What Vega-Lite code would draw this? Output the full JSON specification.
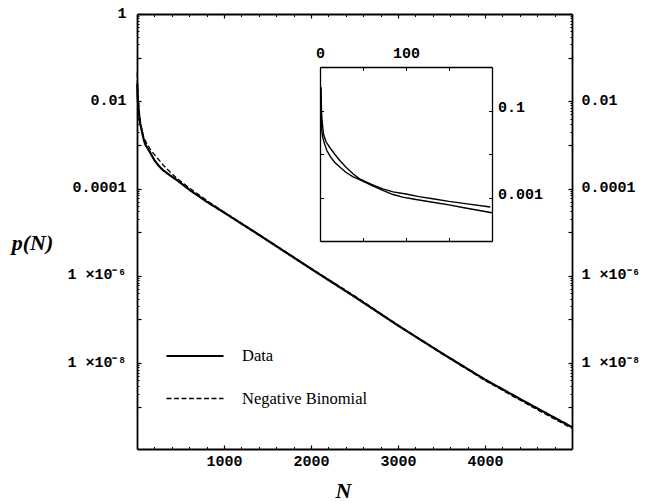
{
  "$schema": "https://vega.github.io/schema/vega-lite/v6.json",
  "width": 435,
  "height": 435,
  "autosize": "none",
  "padding": {"left": 137, "top": 14, "right": 77, "bottom": 55},
  "background": "white",
  "config": {
    "view": {"stroke": null},
    "axis": {"grid": false, "domainColor": "black", "tickColor": "black", "labelColor": "black", "titleColor": "black", "labelFont": "Liberation Mono", "labelFontSize": 15, "labelFontWeight": "bold", "zindex": 1, "labelOverlap": false, "labelFlush": false}
  },
  "datasets": {
    "curves": [
      {"N": 1, "p": 0.331, "s": "Data"},
      {"N": 2, "p": 0.0355, "s": "Data"},
      {"N": 3, "p": 0.0251, "s": "Data"},
      {"N": 5, "p": 0.0178, "s": "Data"},
      {"N": 8, "p": 0.0120, "s": "Data"},
      {"N": 12, "p": 0.00871, "s": "Data"},
      {"N": 17, "p": 0.00646, "s": "Data"},
      {"N": 23, "p": 0.00501, "s": "Data"},
      {"N": 30, "p": 0.00380, "s": "Data"},
      {"N": 38, "p": 0.00302, "s": "Data"},
      {"N": 46, "p": 0.00257, "s": "Data"},
      {"N": 60, "p": 0.00191, "s": "Data"},
      {"N": 73, "p": 0.00145, "s": "Data"},
      {"N": 85, "p": 0.00117, "s": "Data"},
      {"N": 96, "p": 0.00102, "s": "Data"},
      {"N": 110, "p": 0.000912, "s": "Data"},
      {"N": 131, "p": 0.000776, "s": "Data"},
      {"N": 150, "p": 0.000676, "s": "Data"},
      {"N": 169, "p": 0.000575, "s": "Data"},
      {"N": 200, "p": 0.000447, "s": "Data"},
      {"N": 250, "p": 0.000331, "s": "Data"},
      {"N": 300, "p": 0.000263, "s": "Data"},
      {"N": 380, "p": 0.000200, "s": "Data"},
      {"N": 460, "p": 0.000155, "s": "Data"},
      {"N": 610, "p": 9.12e-5, "s": "Data"},
      {"N": 800, "p": 5.01e-5, "s": "Data"},
      {"N": 1000, "p": 2.82e-5, "s": "Data"},
      {"N": 1400, "p": 8.71e-6, "s": "Data"},
      {"N": 2000, "p": 1.445e-6, "s": "Data"},
      {"N": 2500, "p": 3.31e-7, "s": "Data"},
      {"N": 3000, "p": 7.24e-8, "s": "Data"},
      {"N": 3500, "p": 1.70e-8, "s": "Data"},
      {"N": 4000, "p": 4.17e-9, "s": "Data"},
      {"N": 4500, "p": 1.175e-9, "s": "Data"},
      {"N": 5000, "p": 3.39e-10, "s": "Data"},
      {"N": 1, "p": 0.347, "s": "Negative Binomial"},
      {"N": 2, "p": 0.0708, "s": "Negative Binomial"},
      {"N": 3, "p": 0.0457, "s": "Negative Binomial"},
      {"N": 4, "p": 0.0288, "s": "Negative Binomial"},
      {"N": 7, "p": 0.0191, "s": "Negative Binomial"},
      {"N": 11, "p": 0.0145, "s": "Negative Binomial"},
      {"N": 17, "p": 0.0100, "s": "Negative Binomial"},
      {"N": 23, "p": 0.00708, "s": "Negative Binomial"},
      {"N": 30, "p": 0.00501, "s": "Negative Binomial"},
      {"N": 38, "p": 0.00355, "s": "Negative Binomial"},
      {"N": 46, "p": 0.00269, "s": "Negative Binomial"},
      {"N": 60, "p": 0.00200, "s": "Negative Binomial"},
      {"N": 73, "p": 0.00158, "s": "Negative Binomial"},
      {"N": 85, "p": 0.00135, "s": "Negative Binomial"},
      {"N": 100, "p": 0.00120, "s": "Negative Binomial"},
      {"N": 115, "p": 0.00105, "s": "Negative Binomial"},
      {"N": 131, "p": 0.000933, "s": "Negative Binomial"},
      {"N": 150, "p": 0.000813, "s": "Negative Binomial"},
      {"N": 169, "p": 0.000724, "s": "Negative Binomial"},
      {"N": 198, "p": 0.000603, "s": "Negative Binomial"},
      {"N": 250, "p": 0.000457, "s": "Negative Binomial"},
      {"N": 300, "p": 0.000347, "s": "Negative Binomial"},
      {"N": 380, "p": 0.000240, "s": "Negative Binomial"},
      {"N": 460, "p": 0.000170, "s": "Negative Binomial"},
      {"N": 610, "p": 1.0e-4, "s": "Negative Binomial"},
      {"N": 800, "p": 5.37e-5, "s": "Negative Binomial"},
      {"N": 1000, "p": 2.88e-5, "s": "Negative Binomial"},
      {"N": 1400, "p": 8.9e-6, "s": "Negative Binomial"},
      {"N": 2000, "p": 1.48e-6, "s": "Negative Binomial"},
      {"N": 2500, "p": 3.47e-7, "s": "Negative Binomial"},
      {"N": 3000, "p": 7.41e-8, "s": "Negative Binomial"},
      {"N": 3500, "p": 1.66e-8, "s": "Negative Binomial"},
      {"N": 4000, "p": 3.98e-9, "s": "Negative Binomial"},
      {"N": 4500, "p": 1.096e-9, "s": "Negative Binomial"},
      {"N": 5000, "p": 3.16e-10, "s": "Negative Binomial"}
    ]
  },
  "layer": [
    {
      "layer": [
        {
          "data": {"name": "curves"},
          "transform": [{"filter": "datum.N >= 3"}],
          "mark": {"type": "line", "color": "black"},
          "encoding": {
            "x": {"field": "N", "type": "quantitative", "scale": {"domain": [0, 5000], "nice": false, "zero": false},
              "axis": {"orient": "bottom", "values": [1000, 2000, 3000, 4000], "format": "d", "tickSize": -4, "tickWidth": 1.2, "labelPadding": 8, "domainWidth": 1.8,
                "title": "N", "titleFont": "Liberation Serif", "titleFontStyle": "italic", "titleFontWeight": "bold", "titleFontSize": 22, "titleX": 206, "titleY": 48, "titleBaseline": "alphabetic", "titleAlign": "center", "titleAnchor": null}},
            "y": {"field": "p", "type": "quantitative", "scale": {"type": "log", "domain": [1.07e-10, 1], "nice": false},
              "axis": {"orient": "left", "values": [1, 0.1, 0.01, 0.001, 0.0001, 1e-5, 1e-6, 1e-7, 1e-8, 1e-9], "tickSize": -4, "tickWidth": 1.2, "labelPadding": 15, "labelOffset": -2, "domainWidth": 1.8,
                "labelExpr": "datum.value > 0.5 ? '1' : datum.value > 0.05 ? '' : datum.value > 0.005 ? '0.01' : datum.value > 0.0005 ? '' : datum.value > 0.00005 ? '0.0001' : datum.value > 0.000005 ? '' : datum.value > 5e-7 ? '1 ×10⁻⁶' : datum.value > 5e-8 ? '' : datum.value > 5e-9 ? '1 ×10⁻⁸' : ''",
                "title": "p(N)", "titleFont": "Liberation Serif", "titleFontStyle": "italic", "titleFontWeight": "bold", "titleFontSize": 22, "titleAngle": 0, "titleX": -105, "titleY": 235, "titleBaseline": "alphabetic", "titleAlign": "center", "titleAnchor": null}},
            "strokeDash": {"field": "s", "type": "nominal", "scale": {"domain": ["Data", "Negative Binomial"], "range": [[1, 0], [5, 2.5]]},
              "legend": {"orient": "none", "legendX": 28, "legendY": 312, "title": null, "symbolType": "stroke", "symbolSize": 3249, "symbolStrokeColor": "black", "labelFont": "Liberation Serif", "labelFontSize": 16.5, "labelColor": "black", "labelOffset": 17, "rowPadding": 4, "padding": 0}},
            "strokeWidth": {"field": "s", "type": "nominal", "scale": {"domain": ["Data", "Negative Binomial"], "range": [2.2, 1.3]},
              "legend": {"orient": "none", "legendX": 28, "legendY": 312, "title": null, "symbolType": "stroke", "symbolSize": 3249, "symbolStrokeColor": "black", "labelFont": "Liberation Serif", "labelFontSize": 16.5, "labelColor": "black", "labelOffset": 17, "rowPadding": 4, "padding": 0}}
          }
        },
        {
          "data": {"name": "curves"},
          "transform": [{"filter": "datum.N >= 3"}],
          "mark": {"type": "line", "opacity": 0},
          "encoding": {
            "x": {"field": "N", "type": "quantitative", "scale": {"domain": [0, 5000], "nice": false, "zero": false},
              "axis": {"orient": "top", "values": [1000, 2000, 3000, 4000], "tickSize": -4, "tickWidth": 1.2, "labels": false, "domainWidth": 1.8, "title": null}},
            "y": {"field": "p", "type": "quantitative", "scale": {"type": "log", "domain": [1.07e-10, 1], "nice": false},
              "axis": {"orient": "right", "values": [1, 0.1, 0.01, 0.001, 0.0001, 1e-5, 1e-6, 1e-7, 1e-8, 1e-9], "tickSize": -4, "tickWidth": 1.2, "labelPadding": 13, "labelOffset": -2, "domainWidth": 1.8,
                "labelExpr": "datum.value > 0.5 ? '' : datum.value > 0.05 ? '' : datum.value > 0.005 ? '0.01' : datum.value > 0.0005 ? '' : datum.value > 0.00005 ? '0.0001' : datum.value > 0.000005 ? '' : datum.value > 5e-7 ? '1 ×10⁻⁶' : datum.value > 5e-8 ? '' : datum.value > 5e-9 ? '1 ×10⁻⁸' : ''",
                "title": null}},
            "detail": {"field": "s", "type": "nominal"}
          }
        },
        {
          "data": {"name": "curves"},
          "transform": [{"filter": "datum.N >= 3"}],
          "mark": {"type": "line", "opacity": 0},
          "encoding": {
            "x": {"field": "N", "type": "quantitative", "scale": {"domain": [0, 5000], "nice": false, "zero": false},
              "axis": {"orient": "bottom", "values": [200, 400, 600, 800, 1200, 1400, 1600, 1800, 2200, 2400, 2600, 2800, 3200, 3400, 3600, 3800, 4200, 4400, 4600, 4800], "tickSize": -2.5, "tickWidth": 1, "labels": false, "domain": false, "title": null}},
            "y": {"field": "p", "type": "quantitative", "scale": {"type": "log", "domain": [1.07e-10, 1], "nice": false},
              "axis": {"orient": "left", "values": [0.2, 0.3, 0.4, 0.5, 0.6, 0.7, 0.8, 0.9, 0.002, 0.003, 0.004, 0.005, 0.006, 0.007, 0.008, 0.009, 2e-5, 3e-5, 4e-5, 5e-5, 6e-5, 7e-5, 8e-5, 9e-5, 2e-7, 3e-7, 4e-7, 5e-7, 6e-7, 7e-7, 8e-7, 9e-7, 2e-9, 3e-9, 4e-9, 5e-9, 6e-9, 7e-9, 8e-9, 9e-9], "tickSize": -2, "tickWidth": 1, "labels": false, "domain": false, "title": null}},
            "detail": {"field": "s", "type": "nominal"}
          }
        },
        {
          "data": {"name": "curves"},
          "transform": [{"filter": "datum.N >= 3"}],
          "mark": {"type": "line", "opacity": 0},
          "encoding": {
            "x": {"field": "N", "type": "quantitative", "scale": {"domain": [0, 5000], "nice": false, "zero": false},
              "axis": {"orient": "top", "values": [200, 400, 600, 800, 1200, 1400, 1600, 1800, 2200, 2400, 2600, 2800, 3200, 3400, 3600, 3800, 4200, 4400, 4600, 4800], "tickSize": -2.5, "tickWidth": 1, "labels": false, "domain": false, "title": null}},
            "y": {"field": "p", "type": "quantitative", "scale": {"type": "log", "domain": [1.07e-10, 1], "nice": false},
              "axis": {"orient": "right", "values": [0.2, 0.3, 0.4, 0.5, 0.6, 0.7, 0.8, 0.9, 0.002, 0.003, 0.004, 0.005, 0.006, 0.007, 0.008, 0.009, 2e-5, 3e-5, 4e-5, 5e-5, 6e-5, 7e-5, 8e-5, 9e-5, 2e-7, 3e-7, 4e-7, 5e-7, 6e-7, 7e-7, 8e-7, 9e-7, 2e-9, 3e-9, 4e-9, 5e-9, 6e-9, 7e-9, 8e-9, 9e-9], "tickSize": -2, "tickWidth": 1, "labels": false, "domain": false, "title": null}},
            "detail": {"field": "s", "type": "nominal"}
          }
        }
      ],
      "resolve": {"axis": {"x": "independent", "y": "independent"}}
    },
    {
      "layer": [
        {
          "data": {"name": "curves"},
          "transform": [{"filter": "datum.N <= 200"}],
          "mark": {"type": "line", "color": "black", "strokeWidth": 1.4},
          "encoding": {
            "x": {"field": "N", "type": "quantitative", "scale": {"domain": [0, 200], "range": [183, 355], "nice": false, "zero": false},
              "axis": {"orient": "top", "offset": -53, "values": [0, 50, 100, 150], "tickSize": -3.5, "tickWidth": 1, "labelPadding": 10, "domainWidth": 1.3,
                "labelExpr": "datum.value == 0 ? '0' : datum.value == 100 ? '100' : ''", "title": null}},
            "y": {"field": "p", "type": "quantitative", "scale": {"type": "log", "domain": [0.0001, 1], "range": [227, 53], "nice": false},
              "axis": {"orient": "right", "offset": -80, "values": [0.1, 0.01, 0.001], "tickSize": -3.5, "tickWidth": 1, "labelPadding": 9, "labelOffset": -4, "domainWidth": 1.3,
                "labelExpr": "datum.value > 0.05 ? '0.1' : datum.value < 0.005 ? '0.001' : ''", "title": null}},
            "detail": {"field": "s", "type": "nominal"}
          }
        },
        {
          "data": {"name": "curves"},
          "transform": [{"filter": "datum.N <= 200"}],
          "mark": {"type": "line", "opacity": 0},
          "encoding": {
            "x": {"field": "N", "type": "quantitative", "scale": {"domain": [0, 200], "range": [183, 355], "nice": false, "zero": false},
              "axis": {"orient": "bottom", "offset": -208, "values": [50, 100, 150], "tickSize": -3.5, "tickWidth": 1, "labels": false, "domainWidth": 1.3, "title": null}},
            "y": {"field": "p", "type": "quantitative", "scale": {"type": "log", "domain": [0.0001, 1], "range": [227, 53], "nice": false},
              "axis": {"orient": "left", "offset": -183, "values": [0.1, 0.01, 0.001], "tickSize": -3.5, "tickWidth": 1, "labels": false, "domainWidth": 1.3, "title": null}},
            "detail": {"field": "s", "type": "nominal"}
          }
        }
      ],
      "resolve": {"axis": {"x": "independent", "y": "independent"}}
    }
  ],
  "resolve": {"scale": {"x": "independent", "y": "independent"}, "axis": {"x": "independent", "y": "independent"}}
}
